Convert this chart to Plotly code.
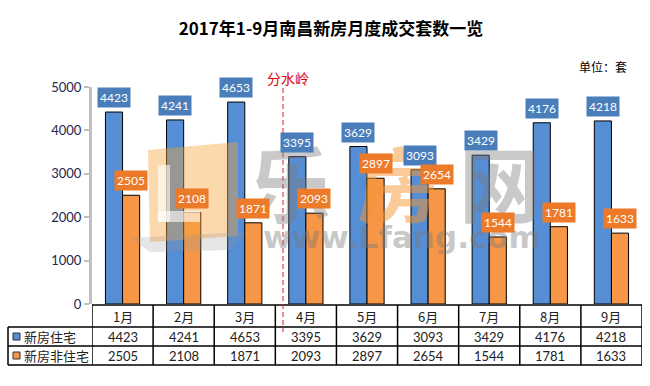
import plotly.graph_objects as go

months = ["1月", "2月", "3月", "4月", "5月", "6月", "7月", "8月", "9月"]
residential = [4423, 4241, 4653, 3395, 3629, 3093, 3429, 4176, 4218]
non_residential = [2505, 2108, 1871, 2093, 2897, 2654, 1544, 1781, 1633]
series_names = ["新房住宅", "新房非住宅"]
title_text = "2017年1-9月南昌新房月度成交套数一览"
unit_text = "单位：套"
divider_text = "分水岭"

W, H = 650, 386
ML, MR, MT, MB = 92, 8, 87, 82
PW, PH = W - ML - MR, H - MT - MB

def xp(px):
    return (px - ML) / PW

def yp(py):
    return (H - MB - py) / PH

BLUE = "#558ED5"
ORANGE = "#F79646"
BLUE_BOX = "#4A7EBB"
ORANGE_BOX = "#EC7A28"
NUM_FONT = "Lato"
CJK_FONT = "Noto Sans CJK SC"

idx = list(range(len(months)))
bw = 0.28

fig = go.Figure()
fig.add_trace(go.Bar(x=idx, y=residential, width=bw, offset=-bw, name=series_names[0],
                     marker=dict(color=BLUE, line=dict(color="black", width=1))))
fig.add_trace(go.Bar(x=idx, y=non_residential, width=bw, offset=0, name=series_names[1],
                     marker=dict(color=ORANGE, line=dict(color="black", width=1))))

ann = []
shapes = []

# watermark (logo block)
shapes.append(dict(type="path", xref="paper", yref="paper", layer="above",
                   path=f"M {xp(148)} {yp(150)} L {xp(238)} {yp(142)} L {xp(238)} {yp(236)} L {xp(150)} {yp(242)} Z",
                   fillcolor="rgba(245,165,60,0.42)", line=dict(width=0)))
shapes.append(dict(type="rect", xref="paper", yref="paper", layer="above",
                   x0=xp(158), x1=xp(170), y0=yp(222), y1=yp(165),
                   fillcolor="rgba(255,255,255,0.6)", line=dict(width=0)))
shapes.append(dict(type="rect", xref="paper", yref="paper", layer="above",
                   x0=xp(158), x1=xp(200), y0=yp(222), y1=yp(211),
                   fillcolor="rgba(255,255,255,0.6)", line=dict(width=0)))
shapes.append(dict(type="path", xref="paper", yref="paper", layer="above",
                   path=f"M {xp(130)} {yp(238)} L {xp(245)} {yp(232)} L {xp(230)} {yp(250)} L {xp(150)} {yp(252)} Z",
                   fillcolor="rgba(150,150,150,0.25)", line=dict(width=0)))
ann.append(dict(text="<b>乐</b>", x=xp(290), y=yp(180), xref="paper", yref="paper", showarrow=False,
                font=dict(family=CJK_FONT, size=82, color="rgba(120,120,120,0.40)"), xanchor="center", yanchor="middle"))
ann.append(dict(text="<b>房</b>", x=xp(398), y=yp(180), xref="paper", yref="paper", showarrow=False,
                font=dict(family=CJK_FONT, size=82, color="rgba(245,150,50,0.50)"), xanchor="center", yanchor="middle"))
ann.append(dict(text="<b>网</b>", x=xp(500), y=yp(180), xref="paper", yref="paper", showarrow=False,
                font=dict(family=CJK_FONT, size=82, color="rgba(120,120,120,0.40)"), xanchor="center", yanchor="middle"))
ann.append(dict(text="<b>www.Lfang.com</b>", x=xp(402), y=yp(237), xref="paper", yref="paper", showarrow=False,
                font=dict(family="DejaVu Sans", size=31, color="rgba(120,120,120,0.42)"), xanchor="center", yanchor="middle"))

# data labels
for i in idx:
    ann.append(dict(x=i - bw / 2, y=residential[i], xref="x", yref="y", text=str(residential[i]),
                    showarrow=False, yanchor="bottom", yshift=4, bgcolor=BLUE_BOX, borderpad=2,
                    font=dict(family=NUM_FONT, size=12, color="white")))
    ann.append(dict(x=i + bw / 2, y=non_residential[i], xref="x", yref="y", text=str(non_residential[i]),
                    showarrow=False, yanchor="bottom", yshift=4, bgcolor=ORANGE_BOX, borderpad=2,
                    font=dict(family=NUM_FONT, size=12, color="white")))

# table
row_y = [305, 327, 346, 365]
LINE = dict(color="black", width=1.5)
shapes.append(dict(type="line", xref="paper", yref="paper", x0=0, x1=1, y0=yp(row_y[0]), y1=yp(row_y[0]), line=LINE))
for ry in row_y[1:]:
    shapes.append(dict(type="line", xref="paper", yref="paper", x0=xp(8), x1=1, y0=yp(ry), y1=yp(ry), line=LINE))
shapes.append(dict(type="line", xref="paper", yref="paper", x0=xp(8), x1=xp(8), y0=yp(row_y[1]), y1=yp(row_y[3]), line=LINE))
for k in range(len(months) + 1):
    shapes.append(dict(type="line", xref="x", yref="paper", x0=k - 0.5, x1=k - 0.5,
                       y0=yp(row_y[0]), y1=yp(row_y[3]), line=LINE))
row_c = [(row_y[j] + row_y[j + 1]) / 2 for j in range(3)]
for i in idx:
    ann.append(dict(x=i, y=yp(row_c[0]), xref="x", yref="paper", text=months[i], showarrow=False,
                    font=dict(family=CJK_FONT, size=13, color="#222"), yanchor="middle"))
    ann.append(dict(x=i, y=yp(row_c[1]), xref="x", yref="paper", text=str(residential[i]), showarrow=False,
                    font=dict(family=NUM_FONT, size=13, color="#222"), yanchor="middle"))
    ann.append(dict(x=i, y=yp(row_c[2]), xref="x", yref="paper", text=str(non_residential[i]), showarrow=False,
                    font=dict(family=NUM_FONT, size=13, color="#222"), yanchor="middle"))
for j, (nm, col) in enumerate(zip(series_names, [BLUE, ORANGE])):
    cy = row_c[j + 1]
    shapes.append(dict(type="rect", xref="paper", yref="paper", x0=xp(13), x1=xp(20),
                       y0=yp(cy + 3.5), y1=yp(cy - 3.5), fillcolor=col, line=dict(color="#333", width=1)))
    ann.append(dict(x=xp(22), y=yp(cy), xref="paper", yref="paper", text=nm, showarrow=False,
                    xanchor="left", yanchor="middle", font=dict(family=CJK_FONT, size=13, color="#222")))

# divider
shapes.append(dict(type="line", xref="paper", yref="paper", x0=xp(283), x1=xp(283), y0=yp(88), y1=yp(332),
                   line=dict(color="#E02020", width=1, dash="5px,3px")))
ann.append(dict(x=xp(288), y=yp(78), xref="paper", yref="paper", text=divider_text, showarrow=False,
                font=dict(family=CJK_FONT, size=14, color="#E00000"), yanchor="middle"))
ann.append(dict(x=xp(629), y=yp(66), xref="paper", yref="paper", text=unit_text, showarrow=False,
                xanchor="right", yanchor="middle", font=dict(family=CJK_FONT, size=12, color="black")))

fig.update_layout(
    width=W, height=H, margin=dict(l=ML, r=MR, t=MT, b=MB),
    paper_bgcolor="white", plot_bgcolor="white", showlegend=False, barmode="overlay",
    title=dict(text="<b>" + title_text + "</b>", x=331 / W, xanchor="center", xref="container",
               y=1 - 29 / H, yanchor="middle", font=dict(family=CJK_FONT, size=17, color="black")),
    xaxis=dict(range=[-0.5, len(months) - 0.5], showticklabels=False, showgrid=False, zeroline=False,
               showline=False, ticks=""),
    yaxis=dict(range=[0, 5000], dtick=1000, showgrid=False, zeroline=False, showline=True,
               linecolor="#BFBFBF", linewidth=3, ticks="outside", ticklen=5, tickwidth=2, tickcolor="#BFBFBF",
               tickfont=dict(family=NUM_FONT, size=13, color="#1E2550")),
    annotations=ann, shapes=shapes,
)

fig.write_html("out.html", config={"displayModeBar": False},
               post_script="document.body.style.margin='0';document.body.style.overflow='hidden';")
